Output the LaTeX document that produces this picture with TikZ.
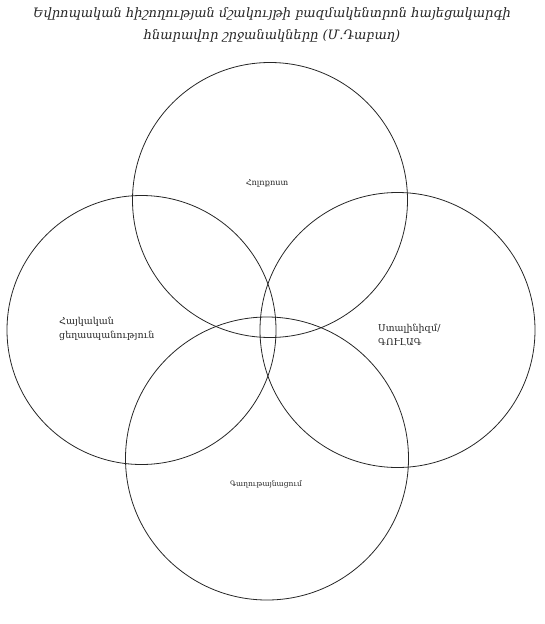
\documentclass[tikz,border=0pt]{standalone}
\usepackage{fontspec}
\setmainfont{DejaVu Serif}
\newfontfamily\armfont{DejaVu Serif}
\usetikzlibrary{positioning}

\begin{document}
\begin{tikzpicture}[x=1pt, y=-1pt, line join=round,
    ring/.style={draw=black!85, line width=0.8pt},
    lbl/.style={font=\fontsize{7.5}{10}\selectfont\armfont, text=black!85, align=left, inner sep=0pt},
    biglbl/.style={lbl, font=\fontsize{9.5}{14}\selectfont\armfont},
    ttl/.style={font=\fontsize{13}{21.5}\selectfont\itshape, text=black!85, align=center, inner sep=0pt}]
  \useasboundingbox (0,0) rectangle (545,624);
  % title
  \node[ttl] (title) at (272,25) {Եվրոպական հիշողության մշակույթի բազմակենտրոն հայեցակարգի\\հնարավոր շրջանակները (Մ.Դաբաղ)};
  % four circles
  \draw[ring] (270,200) circle (137.5);
  \draw[ring] (141.5,330) circle (134.5);
  \draw[ring] (397.5,330) circle (137.5);
  \draw[ring] (267,458.5) circle (141.5);
  % labels
  \node[lbl, font=\fontsize{8.2}{10}\selectfont\armfont] (holo) at (267,183) {Հոլոքոստ};
  \node[biglbl, anchor=west] (armgen) at (59,329) {Հայկական\\ցեղասպանություն};
  \node[biglbl, anchor=west] (gulag) at (378,335) {Ստալինիզմ/\\ԳՈՒԼԱԳ};
  \node[lbl] (colon) at (266,484) {Գաղութայնացում};
\end{tikzpicture}
\end{document}
